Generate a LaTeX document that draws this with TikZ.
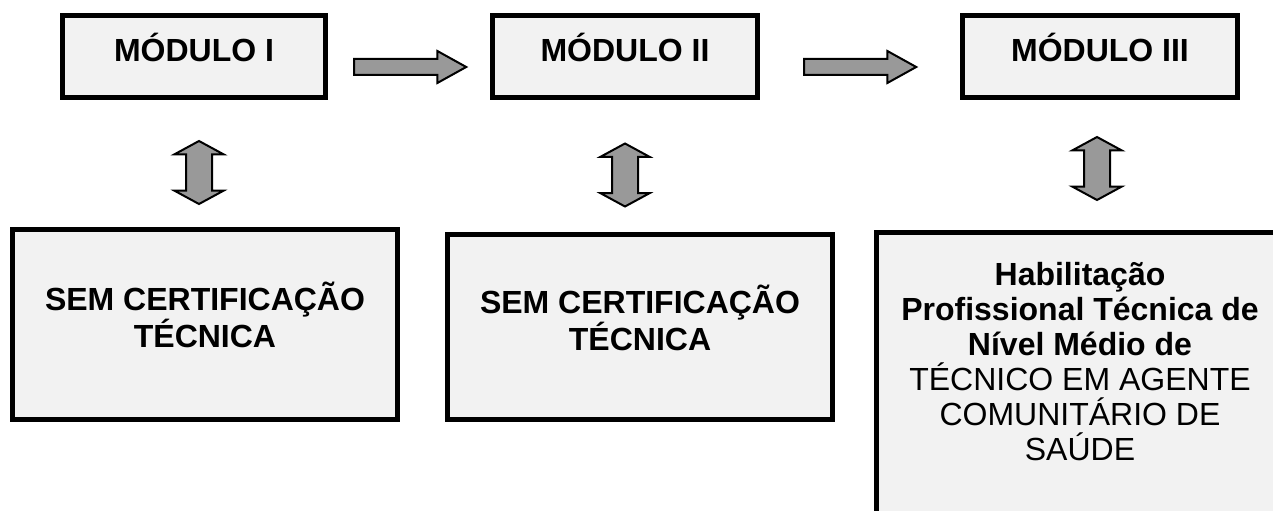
\documentclass[tikz,border=0pt]{standalone}
\usepackage{fontspec}
\setmainfont{Liberation Sans}
\usetikzlibrary{shapes.arrows}
\definecolor{boxgray}{HTML}{F2F2F2}
\definecolor{arrowgray}{HTML}{999999}

\begin{document}
\begin{tikzpicture}[x=0.75pt,y=-0.75pt,
    mod box/.style={draw,fill=boxgray,line width=3.75pt,inner sep=0pt,
      minimum width=#1,minimum height=61.5pt},
    cert box/.style={draw,fill=boxgray,line width=3.75pt,inner sep=0pt},
    box text/.style={font=\fontsize{24}{27.5}\selectfont,align=center,anchor=base},
    right arrow/.style={single arrow,draw,fill=arrowgray,line width=1.5pt,inner sep=5.25pt,
      minimum height=84pt,minimum width=22.5pt,
      single arrow head extend=6pt,single arrow tip angle=58},
    updown arrow/.style={double arrow,draw,fill=arrowgray,line width=1.5pt,inner sep=9pt,
      minimum height=47.25pt,minimum width=35.25pt,shape border rotate=90,
      double arrow head extend=8.6pt,double arrow tip angle=123}]
  \useasboundingbox (0,0) rectangle (1273,510);
  \clip (0,0) rectangle (1273,510);

  % modules
  \node[mod box=197.25pt] (m1) at (194,56.5) {};
  \node[mod box=198.75pt] (m2) at (625,56.5) {};
  \node[mod box=206.25pt] (m3) at (1100,56.5) {};
  \node[box text] (m1t) at (194,61) {\bfseries MÓDULO I};
  \node[box text] (m2t) at (625,61) {\bfseries MÓDULO II};
  \node[box text] (m3t) at (1100,61) {\bfseries MÓDULO III};

  % arrows
  \node[right arrow] (a12) at (403,67) {};
  \node[right arrow] (a23) at (853,67) {};
  \node[updown arrow] (v1) at (199,172.5) {};
  \node[updown arrow] (v2) at (625,175) {};
  \node[updown arrow] (v3) at (1097,168.5) {};

  % certification
  \node[cert box,minimum width=288.75pt,minimum height=142.5pt] (c1) at (205,324.5) {};
  \node[cert box,minimum width=288.75pt,minimum height=138.75pt] (c2) at (640,327) {};
  \node[cert box,minimum width=310.1pt,minimum height=245.6pt] (c3) at (1083.25,396.25) {};
  \node[box text] (c1t) at (205,347) {\bfseries SEM CERTIFICAÇÃO\\\bfseries TÉCNICA};
  \node[box text] (c2t) at (640,350) {\bfseries SEM CERTIFICAÇÃO\\\bfseries TÉCNICA};
  \node[box text,font=\fontsize{24}{26.25}\selectfont] (c3t) at (1080,460)
    {\bfseries Habilitação\\\bfseries Profissional Técnica de\\\bfseries Nível Médio de\\
     TÉCNICO EM AGENTE\\COMUNITÁRIO DE\\SAÚDE};
\end{tikzpicture}
\end{document}
